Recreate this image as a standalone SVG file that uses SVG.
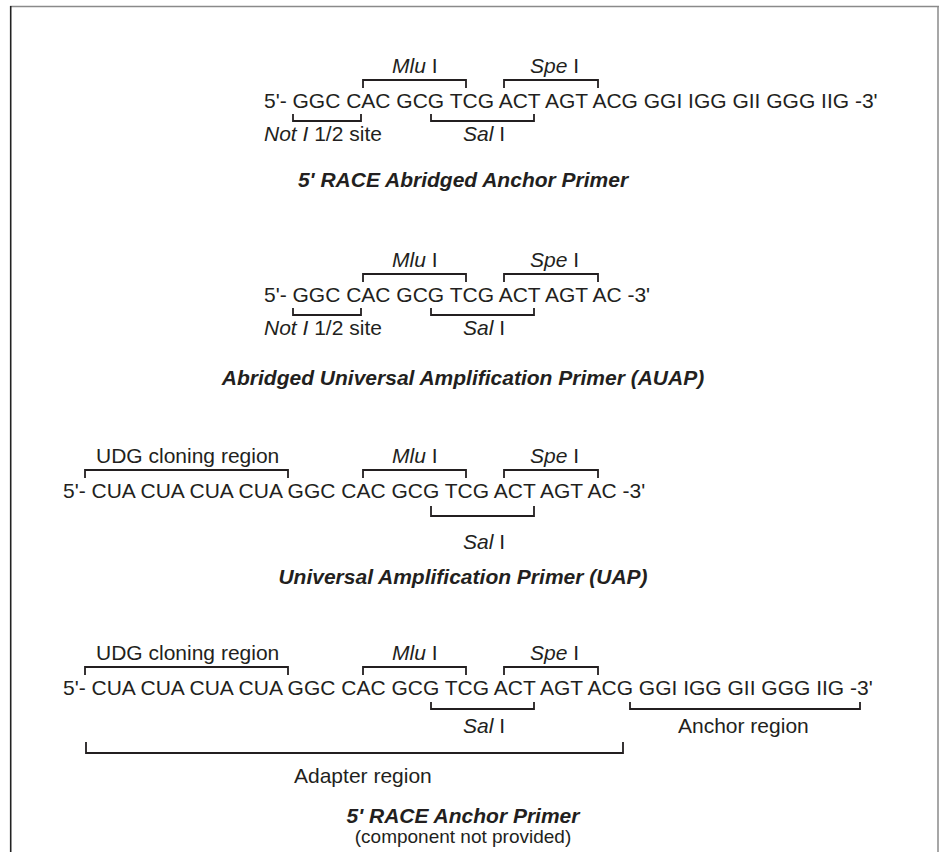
<svg xmlns="http://www.w3.org/2000/svg" width="939" height="852" viewBox="0 0 939 852">
<style>
text{font-family:"Liberation Sans",Arial,Helvetica,sans-serif;fill:#231f20;font-size:21px}
.it{font-style:italic}
.ti{font-weight:bold;font-style:italic;text-anchor:middle}
.br{fill:none;stroke:#231f20;stroke-width:1.8}
</style>
<rect width="939" height="852" fill="#fff"/>
<g id="frame">
<line x1="10" y1="6.5" x2="939" y2="6.5" stroke="#8a8a8a" stroke-width="1.5"/>
<line x1="10.7" y1="6" x2="10.7" y2="852" stroke="#222" stroke-width="1.6"/>
<line x1="938" y1="6" x2="938" y2="852" stroke="#8a8a8a" stroke-width="1.5"/>
</g>
<g id="connectors">
<!-- section 1 -->
<path class="br" d="M363,88V80H466V88M504,88V80H598V88"/>
<path class="br" d="M293,114V121H361V114M431,114V121H534V114"/>
<!-- section 2 -->
<path class="br" d="M363,282V274H466V282M504,282V274H598V282"/>
<path class="br" d="M293,308V315H361V308M431,308V315H534V308"/>
<!-- section 3 -->
<path class="br" d="M85,478V470H288V478M363,478V470H466V478M504,478V470H598V478"/>
<path class="br" d="M431,506V516H534V506"/>
<!-- section 4 -->
<path class="br" d="M85,675V667H288V675M363,675V667H466V675M504,675V667H598V675"/>
<path class="br" d="M431,702V709H534V702M630,702V709H860V702"/>
<path class="br" d="M86,742V753H623V742"/>
</g>
<g id="primer1">
<text x="392" y="73"><tspan class="it">Mlu</tspan> I</text>
<text x="530" y="73"><tspan class="it">Spe</tspan> I</text>
<text x="264" y="108">5'- GGC CAC GCG TCG ACT AGT ACG GGI IGG GII GGG IIG -3'</text>
<text x="264" y="141"><tspan class="it">Not I</tspan> 1/2 site</text>
<text x="463" y="141"><tspan class="it">Sal</tspan> I</text>
<text class="ti" x="463" y="187">5' RACE Abridged Anchor Primer</text>
</g>
<g id="primer2">
<text x="392" y="267"><tspan class="it">Mlu</tspan> I</text>
<text x="530" y="267"><tspan class="it">Spe</tspan> I</text>
<text x="264" y="302">5'- GGC CAC GCG TCG ACT AGT AC -3'</text>
<text x="264" y="335"><tspan class="it">Not I</tspan> 1/2 site</text>
<text x="463" y="335"><tspan class="it">Sal</tspan> I</text>
<text class="ti" x="463" y="385">Abridged Universal Amplification Primer (AUAP)</text>
</g>
<g id="primer3">
<text x="96" y="463">UDG cloning region</text>
<text x="392" y="463"><tspan class="it">Mlu</tspan> I</text>
<text x="530" y="463"><tspan class="it">Spe</tspan> I</text>
<text x="63" y="498">5'- CUA CUA CUA CUA GGC CAC GCG TCG ACT AGT AC -3'</text>
<text x="463" y="549"><tspan class="it">Sal</tspan> I</text>
<text class="ti" x="463" y="584">Universal Amplification Primer (UAP)</text>
</g>
<g id="primer4">
<text x="96" y="660">UDG cloning region</text>
<text x="392" y="660"><tspan class="it">Mlu</tspan> I</text>
<text x="530" y="660"><tspan class="it">Spe</tspan> I</text>
<text x="63" y="695">5'- CUA CUA CUA CUA GGC CAC GCG TCG ACT AGT ACG GGI IGG GII GGG IIG -3'</text>
<text x="463" y="733"><tspan class="it">Sal</tspan> I</text>
<text x="678" y="733">Anchor region</text>
<text x="294" y="783">Adapter region</text>
<text class="ti" x="463" y="823">5' RACE Anchor Primer</text>
<text x="463" y="843" style="text-anchor:middle;font-size:19px">(component not provided)</text>
</g>
</svg>
